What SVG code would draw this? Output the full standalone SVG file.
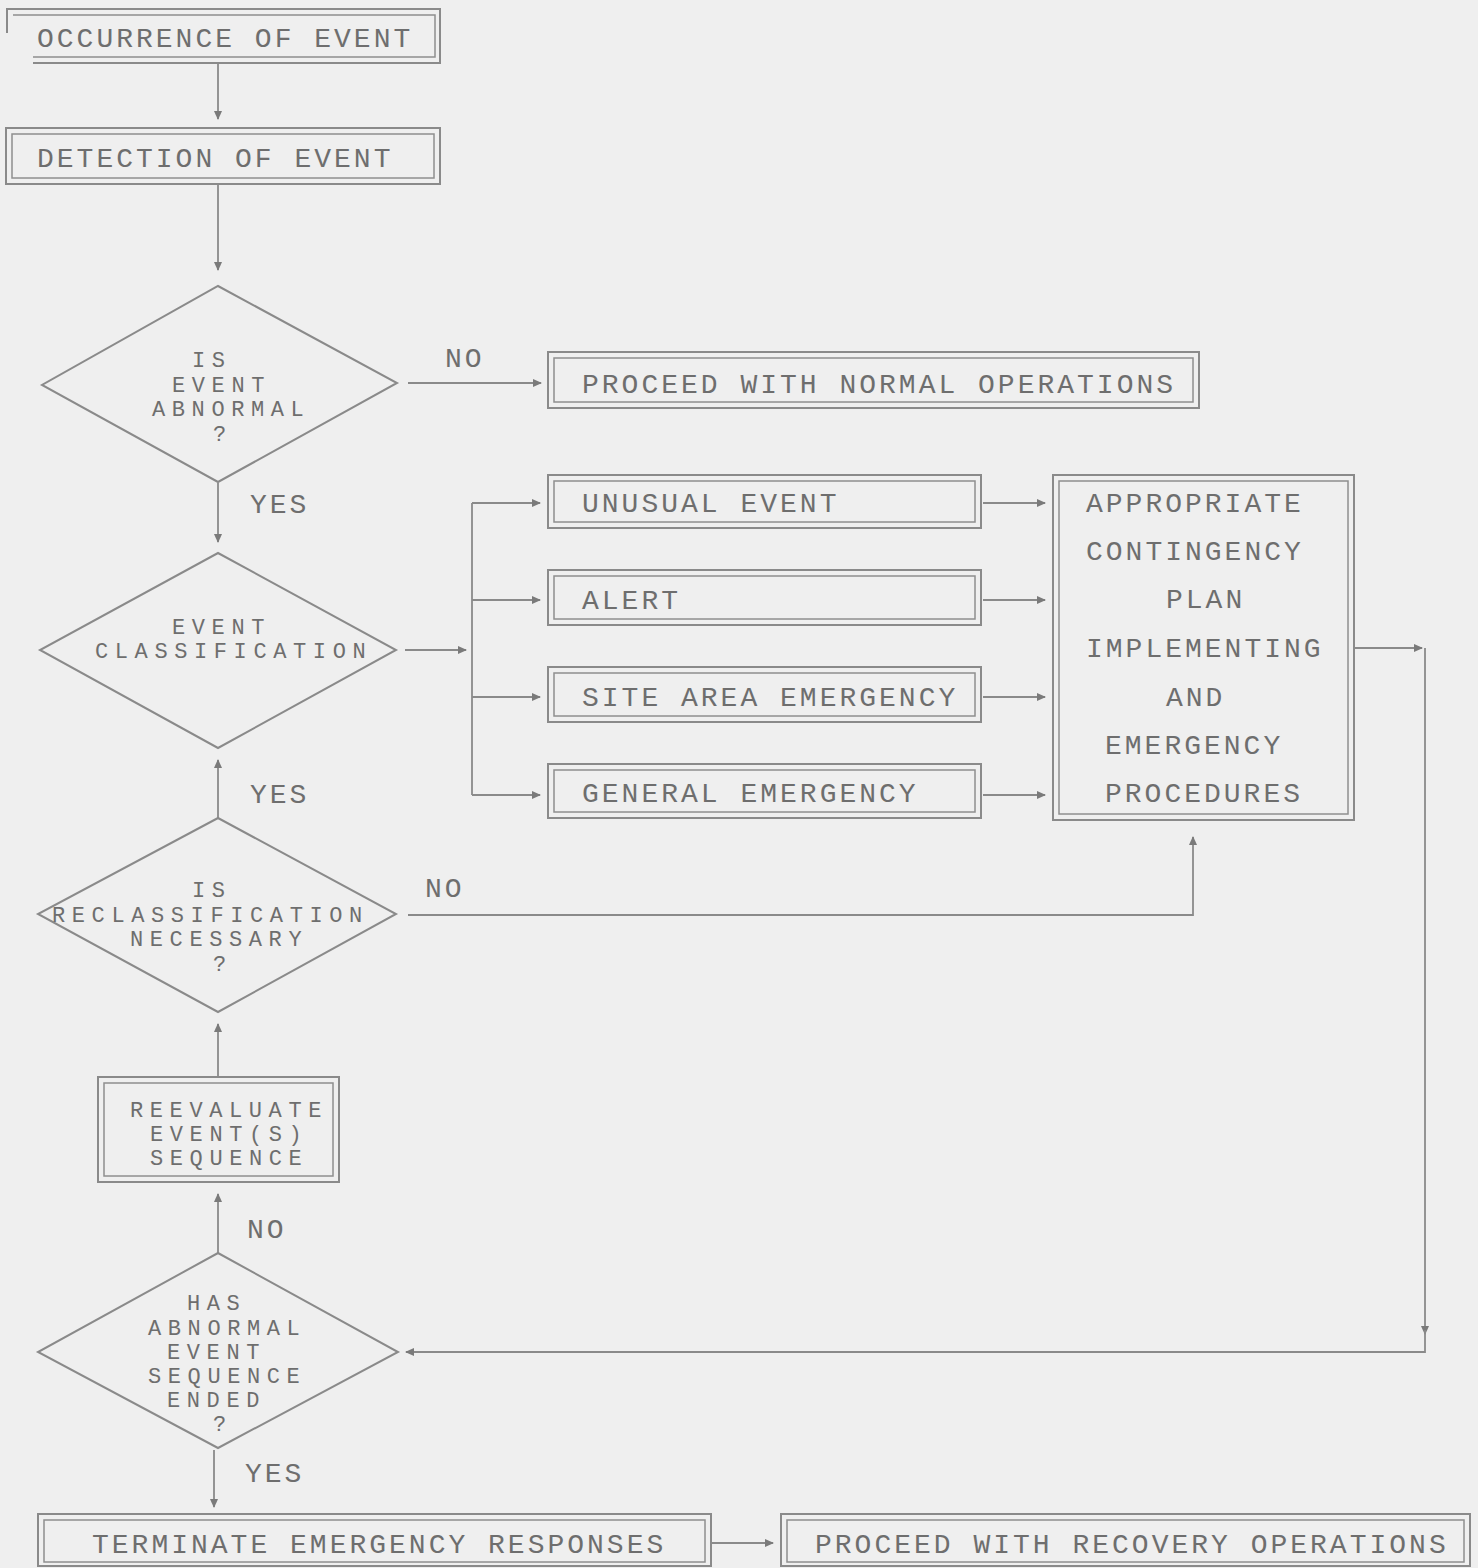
<svg xmlns="http://www.w3.org/2000/svg" width="1478" height="1568" viewBox="0 0 1478 1568">
<style>
.bo{fill:none;stroke:#8a8a8a;stroke-width:2}
.bi{fill:none;stroke:#8f8f8f;stroke-width:1.5}
.dm{fill:none;stroke:#8a8a8a;stroke-width:2}
.cn{fill:none;stroke:#8a8a8a;stroke-width:1.8}
.t{font-family:"Liberation Mono","DejaVu Sans Mono",monospace;font-size:28px;letter-spacing:3px;fill:#6e6e6e}
.s{font-family:"Liberation Mono","DejaVu Sans Mono",monospace;font-size:22px;letter-spacing:6.6px;fill:#6e6e6e}
</style>
<defs>
<marker id="ah" markerUnits="userSpaceOnUse" markerWidth="9" markerHeight="8" refX="8" refY="4" orient="auto">
<path d="M0,0 L9,4 L0,8 Z" fill="#7a7a7a"/>
</marker>
</defs>
<rect x="0" y="0" width="1478" height="1568" fill="#efefef"/>

<g id="connectors">
<path class="cn" d="M218,63 V119" marker-end="url(#ah)"/>
<path class="cn" d="M218,185 V270" marker-end="url(#ah)"/>
<path class="cn" d="M408,383 H541" marker-end="url(#ah)"/>
<path class="cn" d="M218,483 V542" marker-end="url(#ah)"/>
<path class="cn" d="M405,650 H466" marker-end="url(#ah)"/>
<path class="cn" d="M472,503 V795"/>
<path class="cn" d="M472,503 H540" marker-end="url(#ah)"/>
<path class="cn" d="M472,600 H540" marker-end="url(#ah)"/>
<path class="cn" d="M472,697 H540" marker-end="url(#ah)"/>
<path class="cn" d="M472,795 H540" marker-end="url(#ah)"/>
<path class="cn" d="M983,503 H1045" marker-end="url(#ah)"/>
<path class="cn" d="M983,600 H1045" marker-end="url(#ah)"/>
<path class="cn" d="M983,697 H1045" marker-end="url(#ah)"/>
<path class="cn" d="M983,795 H1045" marker-end="url(#ah)"/>
<path class="cn" d="M1355,648 H1422" marker-end="url(#ah)"/>
<path class="cn" d="M1425,648 V1334" marker-end="url(#ah)"/>
<path class="cn" d="M1425,1330 V1352 H406" marker-end="url(#ah)"/>
<path class="cn" d="M218,818 V760" marker-end="url(#ah)"/>
<path class="cn" d="M408,915 H1193 V837" marker-end="url(#ah)"/>
<path class="cn" d="M218,1078 V1024" marker-end="url(#ah)"/>
<path class="cn" d="M218,1253 V1194" marker-end="url(#ah)"/>
<path class="cn" d="M214,1450 V1507" marker-end="url(#ah)"/>
<path class="cn" d="M712,1543 H773" marker-end="url(#ah)"/>
</g>

<g id="labels">
<text class="t" x="445" y="367">NO</text>
<text class="t" x="250" y="513">YES</text>
<text class="t" x="250" y="803">YES</text>
<text class="t" x="425" y="897">NO</text>
<text class="t" x="247" y="1238">NO</text>
<text class="t" x="245" y="1482">YES</text>
</g>

<g id="n-occurrence">
<path class="bo" d="M7,33 V9 H440 V63 H33"/>
<path class="bi" d="M13,15 H435 V57 H33"/>
<text class="t" x="37" y="47">OCCURRENCE OF EVENT</text>
</g>

<g id="n-detection">
<rect class="bo" x="6" y="128" width="434" height="56"/>
<rect class="bi" x="12" y="134" width="422" height="44"/>
<text class="t" x="37" y="167">DETECTION OF EVENT</text>
</g>

<g id="n-abnormal">
<polygon class="dm" points="218,286 397,383 218,482 42,385"/>
<text class="s" x="192" y="367">IS</text>
<text class="s" x="172" y="392">EVENT</text>
<text class="s" x="152" y="416">ABNORMAL</text>
<text class="s" x="213" y="441">?</text>
</g>

<g id="n-normal">
<rect class="bo" x="548" y="352" width="651" height="56"/>
<rect class="bi" x="554" y="358" width="639" height="44"/>
<text class="t" x="582" y="393">PROCEED WITH NORMAL OPERATIONS</text>
</g>

<g id="n-classification">
<polygon class="dm" points="218,553 396,650 218,748 40,650"/>
<text class="s" x="172" y="634">EVENT</text>
<text class="s" x="95" y="658">CLASSIFICATION</text>
</g>

<g id="n-unusual">
<rect class="bo" x="548" y="475" width="433" height="53"/>
<rect class="bi" x="554" y="481" width="421" height="41"/>
<text class="t" x="582" y="512">UNUSUAL EVENT</text>
</g>

<g id="n-alert">
<rect class="bo" x="548" y="570" width="433" height="55"/>
<rect class="bi" x="554" y="576" width="421" height="43"/>
<text class="t" x="582" y="609">ALERT</text>
</g>

<g id="n-site">
<rect class="bo" x="548" y="667" width="433" height="55"/>
<rect class="bi" x="554" y="673" width="421" height="43"/>
<text class="t" x="582" y="706">SITE AREA EMERGENCY</text>
</g>

<g id="n-general">
<rect class="bo" x="548" y="764" width="433" height="54"/>
<rect class="bi" x="554" y="770" width="421" height="42"/>
<text class="t" x="582" y="802">GENERAL EMERGENCY</text>
</g>

<g id="n-procedures">
<rect class="bo" x="1053" y="475" width="301" height="345"/>
<rect class="bi" x="1059" y="481" width="289" height="333"/>
<text class="t" x="1086" y="512">APPROPRIATE</text>
<text class="t" x="1086" y="560">CONTINGENCY</text>
<text class="t" x="1166" y="608">PLAN</text>
<text class="t" x="1086" y="657">IMPLEMENTING</text>
<text class="t" x="1166" y="706">AND</text>
<text class="t" x="1105" y="754">EMERGENCY</text>
<text class="t" x="1105" y="802">PROCEDURES</text>
</g>

<g id="n-reclass">
<polygon class="dm" points="218,818 396,914 218,1012 38,914"/>
<text class="s" x="192" y="897">IS</text>
<text class="s" x="52" y="922">RECLASSIFICATION</text>
<text class="s" x="130" y="946">NECESSARY</text>
<text class="s" x="213" y="971">?</text>
</g>

<g id="n-reevaluate">
<rect class="bo" x="98" y="1077" width="241" height="105"/>
<rect class="bi" x="104" y="1083" width="229" height="93"/>
<text class="s" x="130" y="1117">REEVALUATE</text>
<text class="s" x="150" y="1141">EVENT(S)</text>
<text class="s" x="150" y="1165">SEQUENCE</text>
</g>

<g id="n-ended">
<polygon class="dm" points="218,1253 398,1352 218,1448 38,1352"/>
<text class="s" x="187" y="1310">HAS</text>
<text class="s" x="148" y="1335">ABNORMAL</text>
<text class="s" x="167" y="1359">EVENT</text>
<text class="s" x="148" y="1383">SEQUENCE</text>
<text class="s" x="167" y="1407">ENDED</text>
<text class="s" x="213" y="1431">?</text>
</g>

<g id="n-terminate">
<rect class="bo" x="38" y="1514" width="673" height="52"/>
<rect class="bi" x="44" y="1520" width="661" height="42"/>
<text class="t" x="92" y="1553">TERMINATE EMERGENCY RESPONSES</text>
</g>

<g id="n-recovery">
<rect class="bo" x="781" y="1514" width="689" height="52"/>
<rect class="bi" x="787" y="1520" width="677" height="42"/>
<text class="t" x="815" y="1553">PROCEED WITH RECOVERY OPERATIONS</text>
</g>
</svg>
